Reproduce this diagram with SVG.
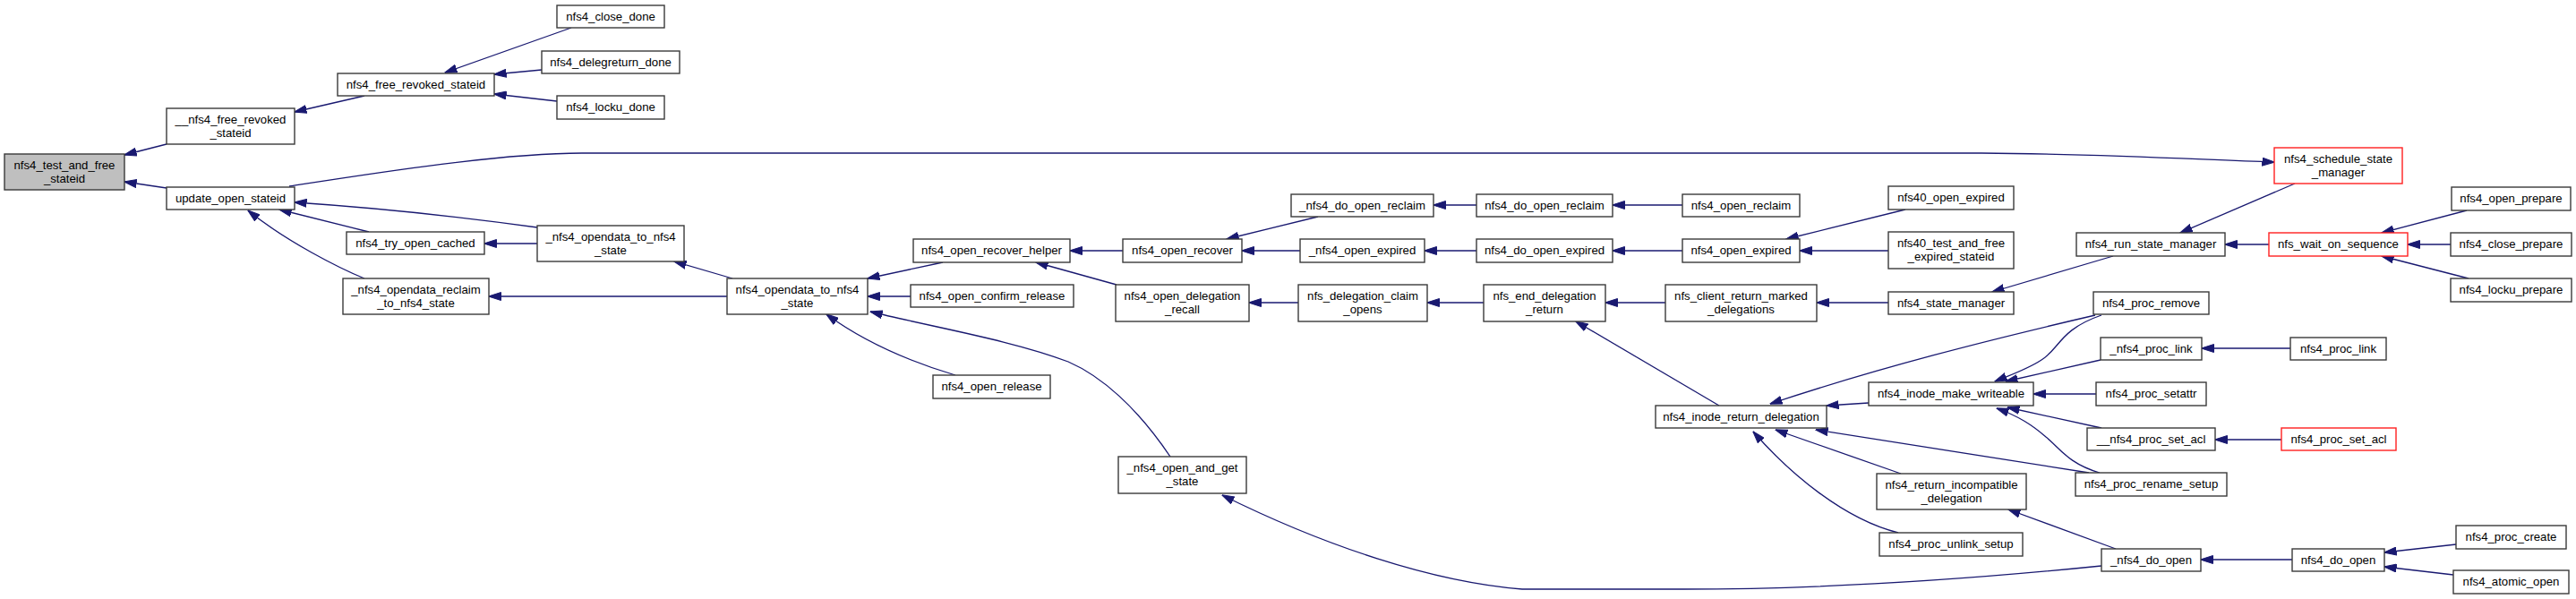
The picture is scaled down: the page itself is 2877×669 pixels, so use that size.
<svg xmlns="http://www.w3.org/2000/svg" width="2877" height="669" viewBox="0 0 2877 669">
<style>
.n rect{fill:#fff;stroke:#3a3a3a;stroke-width:1.4}
.n.root rect{fill:#bfbfbf}
.n.red rect{stroke:#ff2020}
.n text{font-family:"Liberation Sans",Arial,sans-serif;font-size:13.2px;fill:#000;text-anchor:middle}
#edges path{fill:none;stroke:#191970;stroke-width:1.3;marker-end:url(#ah)}
</style>
<defs>
<marker id="ah" markerUnits="userSpaceOnUse" markerWidth="14" markerHeight="10" viewBox="0 0 14 10" refX="13.5" refY="5" orient="auto">
<path d="M0,0.5 L14,5 L0,9.5 z" fill="#191970" stroke="#191970" stroke-width="1"/>
</marker>
</defs>
<rect width="2877" height="669" fill="#fff"/>
<g id="edges">
<path d="M186,161 L139,173"/>
<path d="M186,210 L139,203"/>
<path d="M407,107 L329,125"/>
<path d="M638,31 L497,81"/>
<path d="M605,78 L552,83"/>
<path d="M622,113 L552,105"/>
<path d="M323,208 C420,193 560,171 650,171 L2213,171 C2350,172 2450,178 2540,181"/>
<path d="M600,254 C520,243 420,232 329,226"/>
<path d="M412,259 L312,234"/>
<path d="M407,311 C380,300 320,270 277,235"/>
<path d="M600,272 L541,272"/>
<path d="M818,311 L753,292"/>
<path d="M812,331 L546,331"/>
<path d="M1053,293 L969,311"/>
<path d="M1017,331 L969,331"/>
<path d="M1067,419 C1010,402 960,378 923,351"/>
<path d="M1307,510 C1270,455 1230,420 1193,404 C1130,380 1040,365 972,348"/>
<path d="M1254,280 L1195,280"/>
<path d="M1247,318 L1157,293"/>
<path d="M1472,242 L1370,267"/>
<path d="M1452,280 L1387,280"/>
<path d="M1450,338 L1395,338"/>
<path d="M1649,229 L1601,229"/>
<path d="M1649,280 L1591,280"/>
<path d="M1879,229 L1801,229"/>
<path d="M1879,280 L1801,280"/>
<path d="M1657,338 L1594,338"/>
<path d="M1860,338 L1793,338"/>
<path d="M1920,453 L1760,359"/>
<path d="M2128,234 L1995,267"/>
<path d="M2109,280 L2010,280"/>
<path d="M2109,338 L2029,338"/>
<path d="M2360,286 L2225,326"/>
<path d="M2563,205 L2435,260"/>
<path d="M2534,273 L2485,273"/>
<path d="M2755,235 L2660,260"/>
<path d="M2737,273 L2689,273"/>
<path d="M2757,311 L2660,286"/>
<path d="M2340,352 C2220,380 2100,410 1977,451"/>
<path d="M2347,352 C2300,368 2300,390 2280,402 C2265,412 2245,419 2228,426"/>
<path d="M2346,402 L2240,426"/>
<path d="M2341,440 L2271,440"/>
<path d="M2347,478 L2242,455"/>
<path d="M2345,528 C2310,518 2300,500 2285,488 C2270,475 2255,465 2230,456"/>
<path d="M2333,528 L2028,480"/>
<path d="M2087,450 L2040,453"/>
<path d="M2123,529 L1983,480"/>
<path d="M2120,595 C2060,580 2000,530 1958,482"/>
<path d="M2363,613 L2243,569"/>
<path d="M2347,632 C2150,652 2000,658 1880,658 L1700,658 C1600,650 1480,610 1365,553"/>
<path d="M2560,625 L2458,625"/>
<path d="M2743,608 L2663,617"/>
<path d="M2740,642 L2663,633"/>
<path d="M2558,389 L2459,389"/>
<path d="M2548,491 L2474,491"/>
</g>
<g id="n1" class="n root"><rect x="5" y="172" width="134" height="40"/><text x="72" y="189">nfs4_test_and_free</text><text x="72" y="204">_stateid</text></g>
<g id="n2" class="n"><rect x="186" y="121" width="143" height="40"/><text x="257.5" y="138">__nfs4_free_revoked</text><text x="257.5" y="153">_stateid</text></g>
<g id="n3" class="n"><rect x="186" y="209" width="143" height="25"/><text x="257.5" y="226">update_open_stateid</text></g>
<g id="n4" class="n"><rect x="377" y="82" width="175" height="25"/><text x="464.5" y="99">nfs4_free_revoked_stateid</text></g>
<g id="n5" class="n"><rect x="387" y="259" width="154" height="25"/><text x="464" y="276">nfs4_try_open_cached</text></g>
<g id="n6" class="n"><rect x="383" y="311" width="163" height="40"/><text x="464.5" y="328">_nfs4_opendata_reclaim</text><text x="464.5" y="343">_to_nfs4_state</text></g>
<g id="n7" class="n"><rect x="622" y="6" width="120" height="25"/><text x="682" y="23">nfs4_close_done</text></g>
<g id="n8" class="n"><rect x="605" y="57" width="154" height="25"/><text x="682" y="74">nfs4_delegreturn_done</text></g>
<g id="n9" class="n"><rect x="622" y="107" width="120" height="26"/><text x="682" y="124">nfs4_locku_done</text></g>
<g id="n10" class="n"><rect x="600" y="252" width="164" height="40"/><text x="682" y="269">_nfs4_opendata_to_nfs4</text><text x="682" y="284">_state</text></g>
<g id="n11" class="n"><rect x="812" y="311" width="157" height="40"/><text x="890.5" y="328">nfs4_opendata_to_nfs4</text><text x="890.5" y="343">_state</text></g>
<g id="n12" class="n"><rect x="1020" y="267" width="175" height="26"/><text x="1107.5" y="284">nfs4_open_recover_helper</text></g>
<g id="n13" class="n"><rect x="1017" y="318" width="182" height="25"/><text x="1108" y="335">nfs4_open_confirm_release</text></g>
<g id="n14" class="n"><rect x="1042" y="419" width="131" height="26"/><text x="1107.5" y="436">nfs4_open_release</text></g>
<g id="n15" class="n"><rect x="1249" y="510" width="143" height="41"/><text x="1320.5" y="527">_nfs4_open_and_get</text><text x="1320.5" y="542">_state</text></g>
<g id="n16" class="n"><rect x="1254" y="267" width="133" height="26"/><text x="1320.5" y="284">nfs4_open_recover</text></g>
<g id="n17" class="n"><rect x="1246" y="318" width="149" height="41"/><text x="1320.5" y="335">nfs4_open_delegation</text><text x="1320.5" y="350">_recall</text></g>
<g id="n18" class="n"><rect x="1442" y="217" width="159" height="25"/><text x="1521.5" y="234">_nfs4_do_open_reclaim</text></g>
<g id="n19" class="n"><rect x="1452" y="267" width="139" height="26"/><text x="1521.5" y="284">_nfs4_open_expired</text></g>
<g id="n20" class="n"><rect x="1450" y="318" width="144" height="41"/><text x="1522" y="335">nfs_delegation_claim</text><text x="1522" y="350">_opens</text></g>
<g id="n21" class="n"><rect x="1649" y="217" width="152" height="25"/><text x="1725" y="234">nfs4_do_open_reclaim</text></g>
<g id="n22" class="n"><rect x="1649" y="267" width="152" height="26"/><text x="1725" y="284">nfs4_do_open_expired</text></g>
<g id="n23" class="n"><rect x="1657" y="318" width="136" height="41"/><text x="1725" y="335">nfs_end_delegation</text><text x="1725" y="350">_return</text></g>
<g id="n24" class="n"><rect x="1879" y="217" width="131" height="25"/><text x="1944.5" y="234">nfs4_open_reclaim</text></g>
<g id="n25" class="n"><rect x="1879" y="267" width="131" height="26"/><text x="1944.5" y="284">nfs4_open_expired</text></g>
<g id="n26" class="n"><rect x="1860" y="318" width="169" height="41"/><text x="1944.5" y="335">nfs_client_return_marked</text><text x="1944.5" y="350">_delegations</text></g>
<g id="n27" class="n"><rect x="1849" y="453" width="191" height="25"/><text x="1944.5" y="470">nfs4_inode_return_delegation</text></g>
<g id="n28" class="n"><rect x="2109" y="208" width="140" height="26"/><text x="2179" y="225">nfs40_open_expired</text></g>
<g id="n29" class="n"><rect x="2109" y="259" width="140" height="41"/><text x="2179" y="276">nfs40_test_and_free</text><text x="2179" y="291">_expired_stateid</text></g>
<g id="n30" class="n"><rect x="2109" y="326" width="140" height="25"/><text x="2179" y="343">nfs4_state_manager</text></g>
<g id="n31" class="n"><rect x="2087" y="427" width="184" height="26"/><text x="2179" y="444">nfs4_inode_make_writeable</text></g>
<g id="n32" class="n"><rect x="2096" y="529" width="167" height="40"/><text x="2179.5" y="546">nfs4_return_incompatible</text><text x="2179.5" y="561">_delegation</text></g>
<g id="n33" class="n"><rect x="2099" y="595" width="160" height="26"/><text x="2179" y="612">nfs4_proc_unlink_setup</text></g>
<g id="n34" class="n"><rect x="2319" y="260" width="166" height="26"/><text x="2402" y="277">nfs4_run_state_manager</text></g>
<g id="n35" class="n"><rect x="2338" y="326" width="129" height="25"/><text x="2402.5" y="343">nfs4_proc_remove</text></g>
<g id="n36" class="n"><rect x="2346" y="377" width="113" height="25"/><text x="2402.5" y="394">_nfs4_proc_link</text></g>
<g id="n37" class="n"><rect x="2341" y="427" width="123" height="26"/><text x="2402.5" y="444">nfs4_proc_setattr</text></g>
<g id="n38" class="n"><rect x="2331" y="478" width="143" height="25"/><text x="2402.5" y="495">__nfs4_proc_set_acl</text></g>
<g id="n39" class="n"><rect x="2318" y="528" width="169" height="26"/><text x="2402.5" y="545">nfs4_proc_rename_setup</text></g>
<g id="n40" class="n"><rect x="2347" y="613" width="111" height="25"/><text x="2402.5" y="630">_nfs4_do_open</text></g>
<g id="n41" class="n red"><rect x="2540" y="165" width="143" height="40"/><text x="2611.5" y="182">nfs4_schedule_state</text><text x="2611.5" y="197">_manager</text></g>
<g id="n42" class="n red"><rect x="2534" y="260" width="155" height="26"/><text x="2611.5" y="277">nfs_wait_on_sequence</text></g>
<g id="n43" class="n"><rect x="2558" y="377" width="107" height="25"/><text x="2611.5" y="394">nfs4_proc_link</text></g>
<g id="n44" class="n red"><rect x="2548" y="478" width="128" height="25"/><text x="2612" y="495">nfs4_proc_set_acl</text></g>
<g id="n45" class="n"><rect x="2560" y="613" width="103" height="25"/><text x="2611.5" y="630">nfs4_do_open</text></g>
<g id="n46" class="n"><rect x="2738" y="209" width="133" height="26"/><text x="2804.5" y="226">nfs4_open_prepare</text></g>
<g id="n47" class="n"><rect x="2737" y="260" width="135" height="26"/><text x="2804.5" y="277">nfs4_close_prepare</text></g>
<g id="n48" class="n"><rect x="2737" y="311" width="135" height="26"/><text x="2804.5" y="328">nfs4_locku_prepare</text></g>
<g id="n49" class="n"><rect x="2743" y="587" width="123" height="26"/><text x="2804.5" y="604">nfs4_proc_create</text></g>
<g id="n50" class="n"><rect x="2740" y="637" width="129" height="26"/><text x="2804.5" y="654">nfs4_atomic_open</text></g>
</svg>
